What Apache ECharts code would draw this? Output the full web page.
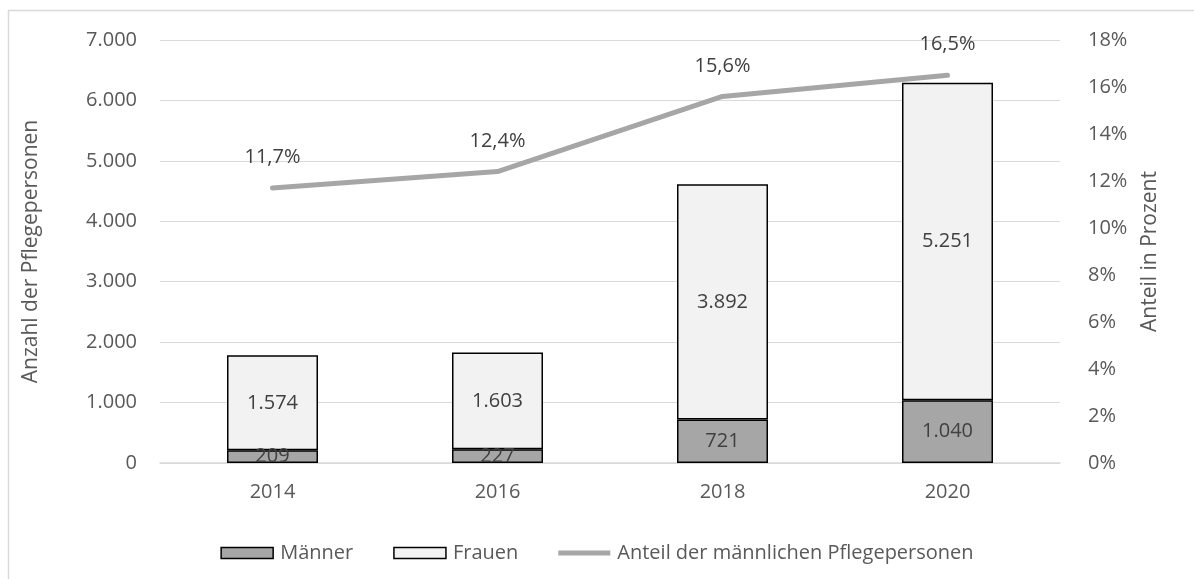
<!DOCTYPE html>
<html>
<head>
<meta charset="utf-8">
<script src="https://cdn.jsdelivr.net/npm/echarts@6/dist/echarts.min.js"></script>
<style>
  html, body { margin: 0; padding: 0; background: #fff; }
  #chart { width: 1194px; height: 579px; }
</style>
</head>
<body>
<div id="chart"></div>
<script>
// Pflegepersonen nach Geschlecht und Anteil der Männer
const years = ['2014', '2016', '2018', '2020'];
const maenner = [209, 227, 721, 1040];
const frauen = [1574, 1603, 3892, 5251];
const anteilMaenner = [11.7, 12.4, 15.6, 16.5];

const textColor = '#595959';
const labelColor = '#404040';
const fontFamily = '"Open Sans", "Noto Sans", sans-serif';
const fmtThousands = v => String(v).replace(/\B(?=(\d{3})+(?!\d))/g, '.');
const fmtPercent = v => v.toFixed(1).replace('.', ',') + '%';

const chart = echarts.init(document.getElementById('chart'), null, { renderer: 'canvas' });
chart.setOption({
  animation: false,
  backgroundColor: '#fff',
  textStyle: { fontFamily: fontFamily, color: textColor },
  graphic: [{
    type: 'rect',
    shape: { x: 8.5, y: 10.5, width: 1200, height: 600 },
    style: { fill: 'none', stroke: '#d9d9d9', lineWidth: 1.5 },
    silent: true
  }],
  grid: { left: 160, right: 134, top: 40, bottom: 116 },
  legend: {
    top: 538,
    left: 'center',
    itemGap: 40,
    itemWidth: 52,
    itemHeight: 11,
    textStyle: { fontSize: 20, color: textColor, fontFamily: fontFamily, padding: [0, 0, 0, 2] },
    data: [
      { name: 'Männer', icon: 'rect', itemStyle: { color: '#a6a6a6', borderColor: '#000', borderWidth: 1.5 } },
      { name: 'Frauen', icon: 'rect', itemStyle: { color: '#f2f2f2', borderColor: '#000', borderWidth: 1.5 } },
      { name: 'Anteil der männlichen Pflegepersonen', icon: 'path://M0,0 L52,0 L52,5 L0,5 Z', itemStyle: { color: '#a6a6a6', borderWidth: 0 } }
    ]
  },
  xAxis: {
    type: 'category',
    data: years,
    axisLine: { lineStyle: { color: '#d9d9d9', width: 1.5 } },
    axisTick: { show: false },
    axisLabel: { fontSize: 20, color: textColor, margin: 19 }
  },
  yAxis: [{
    type: 'value',
    min: 0, max: 7000, interval: 1000,
    name: 'Anzahl der Pflegepersonen',
    nameLocation: 'middle',
    nameGap: 118,
    nameTextStyle: { fontSize: 21, color: textColor },
    axisLine: { show: false },
    axisTick: { show: false },
    axisLabel: { fontSize: 20, color: textColor, margin: 23, formatter: fmtThousands },
    splitLine: { lineStyle: { color: '#d9d9d9', width: 1.2 } }
  }, {
    type: 'value',
    min: 0, max: 18, interval: 2,
    name: 'Anteil in Prozent',
    nameLocation: 'middle',
    nameGap: 80,
    nameRotate: 90,
    nameTextStyle: { fontSize: 21, color: textColor },
    axisLine: { show: false },
    axisTick: { show: false },
    axisLabel: { fontSize: 20, color: textColor, margin: 28, formatter: v => v + '%' },
    splitLine: { show: false }
  }],
  series: [{
    name: 'Männer',
    type: 'bar',
    stack: 'pflege',
    barWidth: 91,
    data: maenner,
    itemStyle: { color: '#a6a6a6', borderColor: '#000', borderWidth: 1.5 },
    label: { show: true, position: 'inside', fontSize: 20, color: labelColor, formatter: p => fmtThousands(p.value) }
  }, {
    name: 'Frauen',
    type: 'bar',
    stack: 'pflege',
    barWidth: 91,
    data: frauen,
    itemStyle: { color: '#f2f2f2', borderColor: '#000', borderWidth: 1.5 },
    label: { show: true, position: 'inside', fontSize: 20, color: labelColor, formatter: p => fmtThousands(p.value) }
  }, {
    name: 'Anteil der männlichen Pflegepersonen',
    type: 'line',
    yAxisIndex: 1,
    data: anteilMaenner,
    symbol: 'circle',
    symbolSize: 1,
    showSymbol: true,
    lineStyle: { color: '#a6a6a6', width: 5, cap: 'round', join: 'round' },
    itemStyle: { color: '#a6a6a6' },
    label: { show: true, position: 'top', distance: 20, fontSize: 20, color: labelColor, formatter: p => fmtPercent(p.value) }
  }]
});
</script>
</body>
</html>
